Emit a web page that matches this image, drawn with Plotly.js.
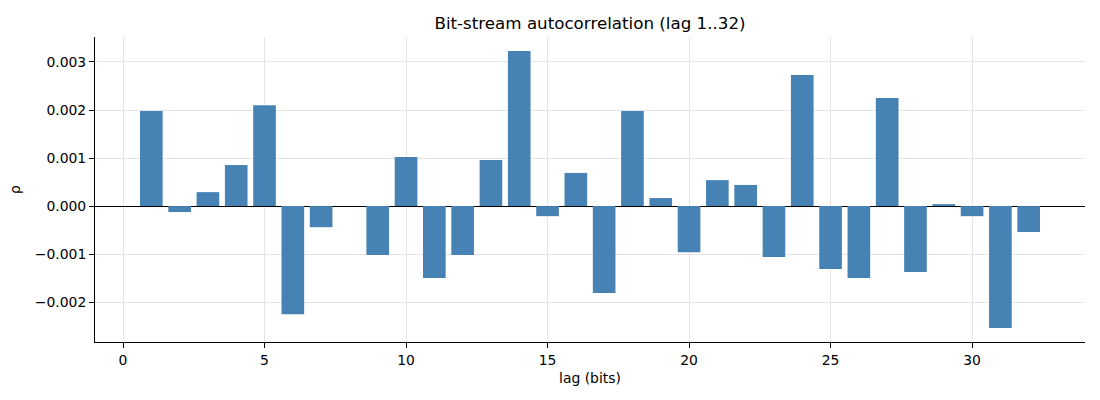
<!DOCTYPE html>
<html>
<head>
<meta charset="utf-8">
<script src="https://cdn.plot.ly/plotly-3.0.1.min.js"></script>
<style>
  html, body { margin: 0; padding: 0; background: #fff; }
  #chart { width: 1100px; height: 400px; }
</style>
</head>
<body>
<div id="chart"></div>
<script>
// lags 1..32 and the autocorrelation
const lags = [];
for (let k = 1; k <= 32; k++) lags.push(k);

const rho = [
   0.00198, -0.000125, 0.00029,  0.000854, 0.0021,  -0.00225, -0.00044,  0.0,
  -0.00102,  0.00102, -0.0015,  -0.00102,  0.00096,  0.00323, -0.00021,  0.00069,
  -0.00181,  0.00198,  0.000167,-0.00096,  0.00054,  0.00044, -0.00106,  0.00273,
  -0.00131, -0.0015,   0.00225, -0.001375, 0.00004, -0.00021, -0.00254, -0.00054
];

const xTicks = [0, 5, 10, 15, 20, 25, 30];
const yTicks = [-0.002, -0.001, 0, 0.001, 0.002, 0.003];
const yTickText = ["\u22120.002", "\u22120.001", "0.000", "0.001", "0.002", "0.003"];

const font = "DejaVu Sans, sans-serif";

Plotly.newPlot('chart', [{
    type: 'bar',
    x: lags,
    y: rho,
    width: 0.8,
    marker: {color: '#4682b4', line: {width: 0}},
    hoverinfo: 'skip'
  }], {
    width: 1100,
    height: 400,
    margin: {l: 95, r: 15, t: 37, b: 58},
    paper_bgcolor: '#fff',
    plot_bgcolor: '#fff',
    showlegend: false,
    font: {family: font, size: 13.9, color: '#000'},
    title: {
      text: 'Bit-stream autocorrelation (lag 1..32)',
      font: {family: font, size: 16.7, color: '#000'},
      x: 0.5, xref: 'paper', y: 0.943, yanchor: 'middle'
    },
    xaxis: {
      range: [-0.99, 33.99],
      tickvals: xTicks,
      ticktext: xTicks.map(String),
      ticks: 'outside', ticklen: 5, tickwidth: 1, tickcolor: '#000',
      showline: true, linecolor: '#000', linewidth: 1,
      showgrid: true, gridcolor: '#e5e5e5', gridwidth: 1,
      zeroline: false,
      title: {text: 'lag (bits)', font: {family: font, size: 13.9}, standoff: 6}
    },
    yaxis: {
      range: [-0.00283, 0.00352],
      tickvals: yTicks,
      ticktext: yTickText,
      ticks: 'outside', ticklen: 5, tickwidth: 1, tickcolor: '#000',
      showline: true, linecolor: '#000', linewidth: 1,
      showgrid: true, gridcolor: '#e5e5e5', gridwidth: 1,
      zeroline: true, zerolinecolor: '#000', zerolinewidth: 1,
      title: {text: '\u03c1', font: {family: font, size: 13.9}, standoff: 10}
    }
  }, {staticPlot: true});
</script>
</body>
</html>
